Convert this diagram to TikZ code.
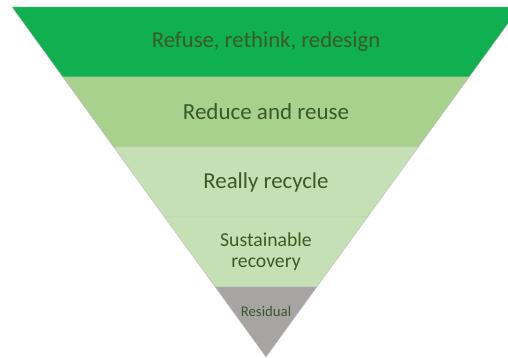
\documentclass[tikz,border=0pt]{standalone}
\usepackage{fontspec}
\setmainfont{Carlito}
\usetikzlibrary{calc}

\definecolor{refuse}{HTML}{10AF4F}
\definecolor{reduce}{HTML}{A9D18E}
\definecolor{recycle}{HTML}{C5E0B4}
\definecolor{recovery}{HTML}{C5E0B4}
\definecolor{residual}{HTML}{A8A4A4}
\definecolor{lblgreen}{HTML}{3A5A26}

\begin{document}
\begin{tikzpicture}[x=1pt,y=1pt,
		band/.style={draw=gray!50,line width=.4pt},
		lbl/.style={text=lblgreen,align=center,inner sep=0pt}]
	\useasboundingbox (0,0) rectangle (508,358);
	\begin{scope}
		\clip (0,0) rectangle (508,358);
		%% four trapezoid bands, 70 high, sides meeting at the apex (266,1)
		\foreach \k/\col in {0/refuse,1/reduce,2/recycle,3/recovery}{
			\pgfmathsetmacro{\yt}{351-70*\k}
			\pgfmathsetmacro{\yb}{351-70*(\k+1)}
			\pgfmathsetmacro{\wt}{50.8*(5-\k)}
			\pgfmathsetmacro{\wb}{50.8*(4-\k)}
			\filldraw[band,fill=\col] (266-\wt,\yt) -- (266+\wt,\yt)
				-- (266+\wb,\yb) -- (266-\wb,\yb) -- cycle;
		}
		%% bottom tip
		\filldraw[band,fill=residual] (266-50.8,71) -- (266+50.8,71) -- (266,1) -- cycle;
	\end{scope}

	\node[lbl,font=\fontsize{22.7}{26}\selectfont] (refuse) at (266,316) {Refuse, rethink, redesign};
	\node[lbl,font=\fontsize{23}{26}\selectfont] (reduce) at (266,246) {Reduce and reuse};
	\node[lbl,font=\fontsize{22.8}{26}\selectfont] (recycle) at (266,176) {Really recycle};
	\node[lbl,font=\fontsize{19.7}{21}\selectfont] (recovery) at (266,106) {Sustainable\\recovery};
	\node[lbl,font=\fontsize{14.8}{17}\selectfont] (residual) at (266,47) {Residual};
\end{tikzpicture}
\end{document}
